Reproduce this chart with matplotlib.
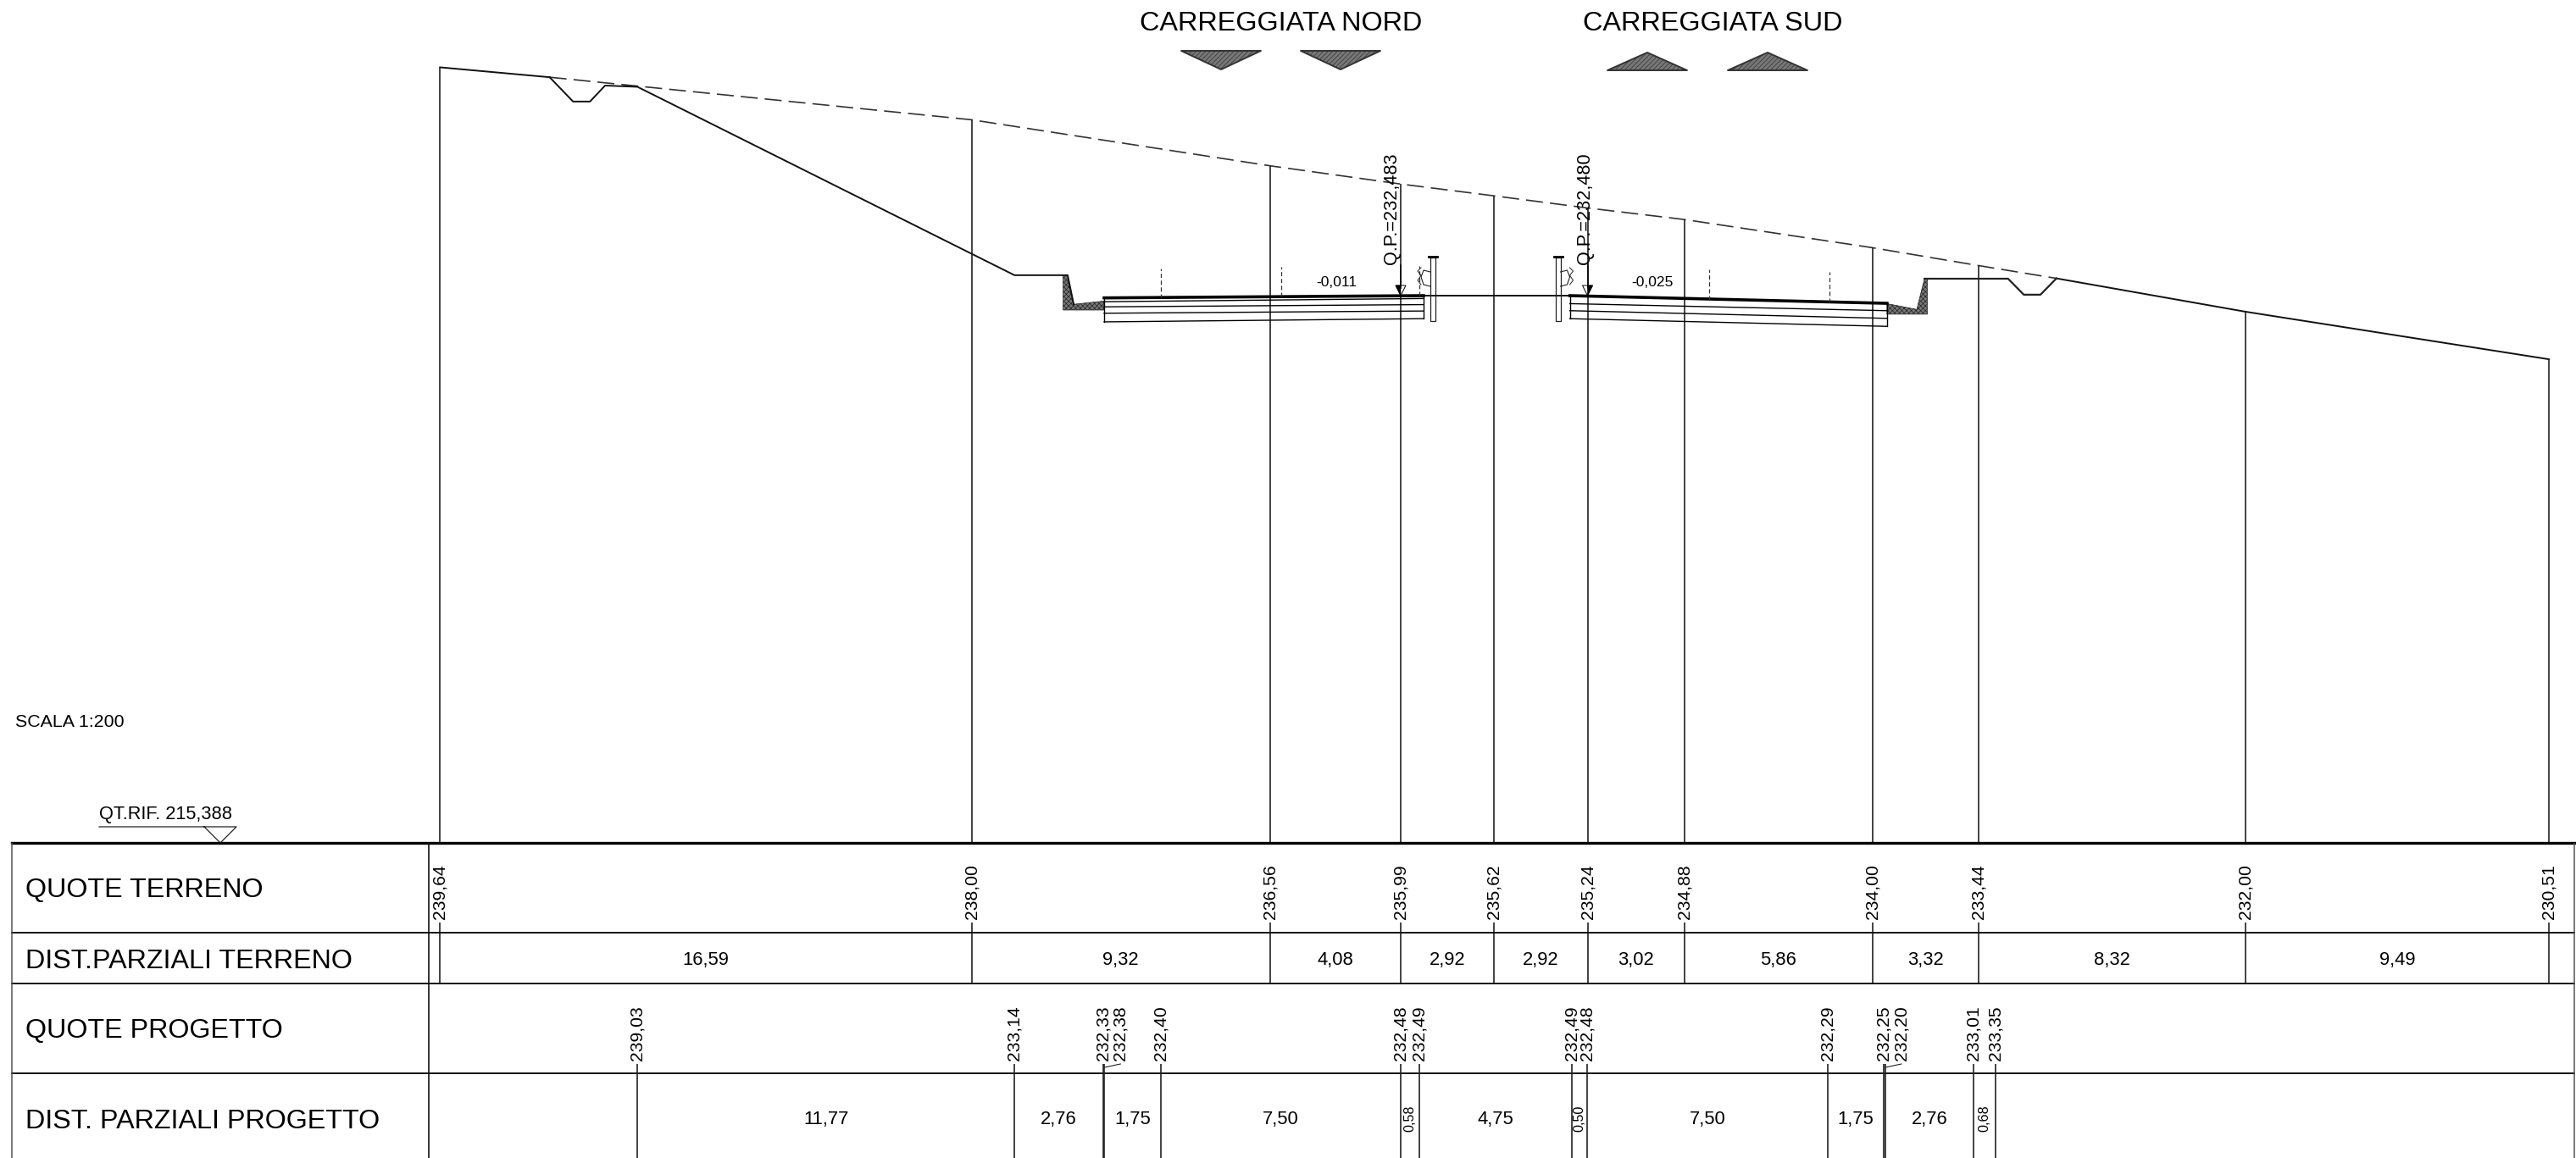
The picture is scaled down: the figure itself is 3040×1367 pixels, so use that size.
#!/usr/bin/env python3
"""Sezione trasversale stradale con tabella delle quote (scala 1:200)."""
import matplotlib

matplotlib.use("Agg")
import matplotlib.pyplot as plt  # noqa: E402
import matplotlib.transforms as mtrans  # noqa: E402
import numpy as np  # noqa: E402
from matplotlib.patches import Polygon  # noqa: E402

plt.rcParams["font.family"] = ["Liberation Sans", "DejaVu Sans"]
plt.rcParams["hatch.linewidth"] = 0.5

QT_RIF = 215.388
QUOTE_TERRENO = [239.64, 238.00, 236.56, 235.99, 235.62, 235.24, 234.88, 234.00, 233.44, 232.00, 230.51]
DIST_TERRENO = [16.59, 9.32, 4.08, 2.92, 2.92, 3.02, 5.86, 3.32, 8.32, 9.49]

X_INIZIO_PROGETTO = 6.16
QUOTE_PROGETTO = [239.03, 233.14, 232.33, 232.38, 232.40, 232.48, 232.49,
                  232.49, 232.48, 232.29, 232.25, 232.20, 233.01, 233.35]
DIST_PROGETTO = [11.77, 2.76, 0.05, 1.75, 7.50, 0.58, 4.75, 0.50, 7.50, 1.75, 0.05, 2.76, 0.68]

# fosso e scarpata a monte / a valle
MONTE_X = [3.42, 4.15, 4.68, 5.15, 6.16, 17.93, 19.59, 19.78]
MONTE_Z = [239.33, 238.57, 238.57, 239.07, 239.03, 233.14, 233.14, 232.23]
VALLE_X = [46.34, 48.95, 49.44, 49.96, 50.46]
VALLE_Z = [233.03, 233.03, 232.53, 232.53, 233.04]

# cunette (poligoni retinati)
CUNETTA_N_X = [19.45, 19.59, 19.78, 20.73, 20.73, 19.45]
CUNETTA_N_Z = [233.14, 233.14, 232.23, 232.33, 232.05, 232.05]
CUNETTA_S_X = [45.17, 46.10, 46.34, 46.43, 46.43, 45.17]
CUNETTA_S_Z = [232.25, 232.07, 233.03, 233.03, 231.92, 231.92]

# strati di pavimentazione
NORD_X = [20.73, 30.70]
NORD_SX = [232.43, 232.31, 232.15, 231.95, 231.68]
NORD_DX = [232.50, 232.41, 232.22, 232.02, 231.78]
SUD_X = [35.27, 45.17]
SUD_SX = [232.50, 232.25, 232.03, 231.78]
SUD_DX = [232.26, 232.03, 231.79, 231.54]
Z_SPARTITRAFFICO = 232.50

TRATTEGGI_X = [22.49, 26.27, 30.57, 39.63, 43.37]
TRATTEGGI_Z0 = [232.42, 232.47, 232.50, 232.36, 232.28]
TRATTEGGI_Z1 = [233.35, 233.40, 233.43, 233.33, 233.24]

RIGHE = ["QUOTE TERRENO", "DIST.PARZIALI TERRENO", "QUOTE PROGETTO", "DIST. PARZIALI PROGETTO"]
RIGHE_Y = [1051, 1135, 1217, 1324]
BORDI_Y = [1101, 1161, 1267]

# ---- figura: un asse in metri (scala reale) e uno in pixel per il cartiglio ----
fig = plt.figure(figsize=(30.4, 13.67), dpi=100, facecolor="white")
ax = fig.add_axes([0, 0, 1, 1])
ax.set_xlim(-13.74, 66.68)
ax.set_ylim(205.534, 241.745)
ax.axis("off")
axp = fig.add_axes([0, 0, 1, 1])
axp.set_xlim(0, 3040)
axp.set_ylim(1367, 0)
axp.axis("off")
axp.patch.set_alpha(0)
misto = mtrans.blended_transform_factory(ax.transData, axp.transData)

x_ter = np.concatenate([[0], np.cumsum(DIST_TERRENO)])
z_ter = np.array(QUOTE_TERRENO)
x_pro = X_INIZIO_PROGETTO + np.concatenate([[0], np.cumsum(DIST_PROGETTO)])

LW = 1.2
NERO = "#111111"

# terreno naturale
ax.plot([0, MONTE_X[0]], [z_ter[0], MONTE_Z[0]], color=NERO, lw=LW + 0.2)
dash_x = [MONTE_X[0]] + [x for x in x_ter if MONTE_X[0] < x < VALLE_X[-1]] + [VALLE_X[-1]]
dash_z = [MONTE_Z[0]] + [z for x, z in zip(x_ter, z_ter) if MONTE_X[0] < x < VALLE_X[-1]] + [VALLE_Z[-1]]
ax.plot(dash_x, dash_z, color="#333333", lw=LW, dashes=(12, 5))
ax.plot([VALLE_X[-1], x_ter[-2], x_ter[-1]], [VALLE_Z[-1], z_ter[-2], z_ter[-1]], color=NERO, lw=LW + 0.2)

# profilo di progetto
ax.plot(MONTE_X, MONTE_Z, color=NERO, lw=LW + 0.2)
ax.plot(VALLE_X, VALLE_Z, color="#222222", lw=LW + 0.4)
for xs, zs in ((CUNETTA_N_X, CUNETTA_N_Z), (CUNETTA_S_X, CUNETTA_S_Z)):
    ax.add_patch(Polygon(list(zip(xs, zs)), closed=True, facecolor="#777777", edgecolor="#222222",
                         hatch="xxxxxx", lw=0.5))

# verticali delle quote terreno
ax.vlines(x_ter, QT_RIF, z_ter, color="#222222", lw=LW)
axp.vlines(x_ter, 1089, 1161, color="#222222", lw=LW, transform=misto)

# pavimentazioni
for xs, sx, dx in ((NORD_X, NORD_SX, NORD_DX), (SUD_X, SUD_SX, SUD_DX)):
    for i, (a, b) in enumerate(zip(sx, dx)):
        ax.plot(xs, [a, b], color="black", lw=2.6 if i == 0 else 1.0)
    ax.plot([xs[0], xs[0]], [sx[0], sx[-1]], color="black", lw=1.0)
    ax.plot([xs[1], xs[1]], [dx[0], dx[-1]], color="black", lw=1.0)
ax.plot([NORD_X[1], SUD_X[0]], [Z_SPARTITRAFFICO, Z_SPARTITRAFFICO], color="black", lw=1.3)
ax.vlines(TRATTEGGI_X, TRATTEGGI_Z0, TRATTEGGI_Z1, color="#333333", lw=0.9, linestyles=(0, (4, 2.5)))

# ---- decorazioni in pixel: tabella, barriere, frecce, triangoli ----
for y in BORDI_Y:
    axp.plot([14, 3038], [y, y], color=NERO, lw=1.4)
axp.plot([14, 3038], [995, 995], color="black", lw=2.4)
axp.vlines([14, 3038], 995, 1367, color="#555555", lw=1.1)
axp.vlines(506, 995, 1367, color=NERO, lw=LW)

for testo, y in zip(RIGHE, RIGHE_Y):
    axp.text(30, y, testo, fontsize=23.2, ha="left", va="center", color="black")

axp.text(18, 853, "SCALA 1:200", fontsize=15.4, ha="left", va="center")
axp.text(117, 961, "QT.RIF. 215,388", fontsize=15.7, ha="left", va="center")
axp.plot([117, 279, 260, 241], [976, 976, 995, 976], color="#222222", lw=0.9)

axp.text(1512, 28, "CARREGGIATA NORD", fontsize=23.3, ha="center", va="center")
axp.text(2021, 28, "CARREGGIATA SUD", fontsize=23.3, ha="center", va="center")
for x0 in (1394, 1535):
    axp.add_patch(Polygon([[x0, 60], [x0 + 94, 60], [x0 + 47, 82]], closed=True, facecolor="#777777",
                          edgecolor="#333333", hatch="//////", lw=1.4, joinstyle="round"))
for x0 in (1897, 2039):
    axp.add_patch(Polygon([[x0, 83], [x0 + 94, 83], [x0 + 47, 62]], closed=True, facecolor="#777777",
                          edgecolor="#333333", hatch="//////", lw=1.4, joinstyle="round"))

# quote terreno e distanze
for x, z in zip(x_ter, QUOTE_TERRENO):
    etichetta = f"{z:.2f}".replace(".", ",")
    axp.text(x, 1085, etichetta, transform=misto, rotation=90, ha="center", va="bottom", fontsize=15.2)
for a, b, d in zip(x_ter[:-1], x_ter[1:], DIST_TERRENO):
    axp.text((a + b) / 2, 1133, f"{d:.2f}".replace(".", ","), transform=misto, ha="center", va="center",
             fontsize=15.8)

# quote progetto: le coppie a 0,05 m hanno l'etichetta spostata con un richiamo
SPOSTATE = {3: 0.5, 11: 0.5}
axp.vlines(x_pro, 1256, 1367, color="#222222", lw=LW, transform=misto)
for i, (x, z) in enumerate(zip(x_pro, QUOTE_PROGETTO)):
    xl = x + SPOSTATE.get(i, 0)
    axp.text(xl, 1252, f"{z:.2f}".replace(".", ","), transform=misto, rotation=90, ha="center", va="bottom",
             fontsize=15.2)
    if i in SPOSTATE:
        axp.plot([x, xl], [1260, 1256], color="#222222", lw=0.8, transform=misto)
for a, b, d in zip(x_pro[:-1], x_pro[1:], DIST_PROGETTO):
    if d < 0.1:
        continue
    testo = f"{d:.2f}".replace(".", ",")
    if d < 1:
        axp.text((a + b) / 2, 1320, testo, transform=misto, rotation=90, ha="center", va="center", fontsize=11.6)
    else:
        axp.text((a + b) / 2, 1322, testo, transform=misto, ha="center", va="center", fontsize=15.8)

# quote di progetto sull'asse con freccia semipiena
axp.text(1642, 246, "Q.P.=232,483", rotation=90, ha="center", va="center", fontsize=15.6)
axp.text(1870, 246, "Q.P.=232,480", rotation=90, ha="center", va="center", fontsize=15.6)
for xc, lato in ((1653, -1), (1873.5, 1)):
    axp.plot([xc, xc], [313, 340], color="black", lw=1.1)
    axp.add_patch(Polygon([[xc - 6, 337], [xc + 6, 337], [xc, 349]], closed=True, facecolor="white",
                          edgecolor="black", lw=0.7))
    axp.add_patch(Polygon([[xc, 337], [xc + lato * 6, 337], [xc, 349]], closed=True, facecolor="black",
                          edgecolor="black", lw=0.4))
axp.text(1577, 334, "-0,011", ha="center", va="center", fontsize=12.6)
axp.text(1950, 334, "-0,025", ha="center", va="center", fontsize=12.6)

# barriere spartitraffico
for xp, verso in ((1691, -1), (1838.5, 1)):
    axp.plot([xp - 3, xp - 3, xp + 3, xp + 3, xp - 3], [304, 379, 379, 304, 304], color="#222222", lw=0.9)
    axp.plot([xp - 5, xp + 5], [303, 303], color="black", lw=2.0)
    axp.plot([xp + verso * 3, xp + verso * 11, xp + verso * 14, xp + verso * 11, xp + verso * 3],
             [321, 319, 327, 336, 338], color="#222222", lw=0.8)
    axp.plot([xp + verso * 14, xp + verso * 18, xp + verso * 14, xp + verso * 18, xp + verso * 14],
             [316, 320, 325, 331, 336], color="#222222", lw=0.7)

fig.savefig("out.png", dpi=100, facecolor="white")
plt.close(fig)
